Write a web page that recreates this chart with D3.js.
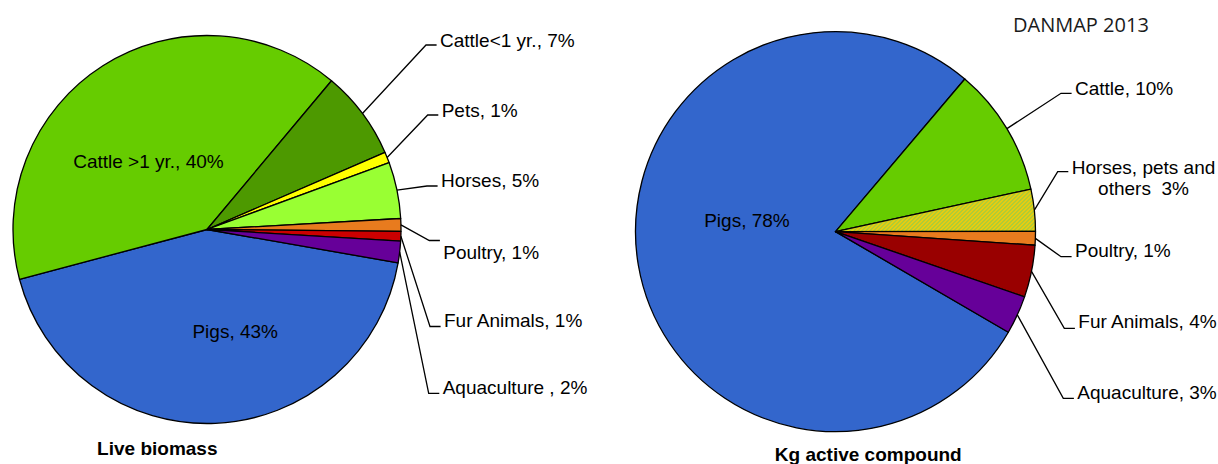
<!DOCTYPE html>
<html>
<head>
<meta charset="utf-8">
<script src="https://cdn.jsdelivr.net/npm/d3@7"></script>
<style>
  html, body { margin: 0; padding: 0; background: #fff; }
  svg { display: block; }
  text { font-family: "Liberation Sans", Arial, sans-serif; fill: #000; white-space: pre; }
</style>
</head>
<body>
<svg id="chart" width="1218" height="464"></svg>
<script>
// ---------- DATA ----------
const leftNames   = ["Pigs", "Cattle >1 yr.", "Cattle<1 yr.", "Pets", "Horses", "Poultry", "Fur Animals", "Aquaculture"];
const leftValues  = [43.1, 40.2, 7.4, 0.9, 4.7, 1.05, 0.8, 1.8];
const leftLabels  = ["Pigs, 43%", "Cattle >1 yr., 40%", "Cattle<1 yr., 7%", "Pets, 1%", "Horses, 5%", "Poultry, 1%", "Fur Animals, 1%", "Aquaculture , 2%"];
const leftColors  = ["#3366CC", "#66CC00", "#4D9900", "#FFFF00", "#99FF33", "#E87B1E", "#CC0000", "#660099"];

const rightNames  = ["Pigs", "Cattle", "Horses, pets and others", "Poultry", "Fur Animals", "Aquaculture"];
const rightValues = [77.8, 10.4, 3.4, 1.1, 4.2, 3.1];
const rightLabels = ["Pigs, 78%", "Cattle, 10%", "Horses, pets and\nothers  3%", "Poultry, 1%", "Fur Animals, 4%", "Aquaculture, 3%"];
const rightColors = ["#3366CC", "#66CC00", "url(#stripes)", "#E87B1E", "#990000", "#660099"];

const leftTitle  = "Live biomass";
const rightTitle = "Kg active compound";
const sourceNote = "DANMAP 2013";

// ---------- LAYOUT ----------
const leftPie  = { cx: 207, cy: 229.5, r: 194, start: 99.9 };
const rightPie = { cx: 835.5, cy: 231.6, r: 200, start: 120.2 };

// inside labels: offsets from the arc centroid (text centre x, baseline y)
const leftInside  = { 0: [24, 11.5], 1: [-6.5, 20] };
const rightInside = { 0: [10, -21.5] };

// outside labels: text left x, first baseline y, leader y
const leftOutside = {
  2: { x: 440,   y: 46.5,  ly: 45 },
  3: { x: 441.7, y: 116.5, ly: 115 },
  4: { x: 441,   y: 187,   ly: 186 },
  5: { x: 443.3, y: 259,   ly: 240.5 },
  6: { x: 444,   y: 327,   ly: 326.5 },
  7: { x: 442.7, y: 394,   ly: 393.3 }
};
const rightOutside = {
  1: { x: 1075,   y: 94.5, ly: 93.3 },
  2: { x: 1071.7, y: 174,  ly: 171.7 },
  3: { x: 1075,   y: 257,  ly: 256.7 },
  4: { x: 1078.3, y: 328,  ly: 328.3 },
  5: { x: 1077.3, y: 399,  ly: 398.3 }
};

const svg = d3.select("#chart");
const FONT = 19;

// pixel hatch pattern (upward diagonal)
const defs = svg.append("defs");
const P = 4;
const pat = defs.append("pattern")
  .attr("id", "stripes")
  .attr("patternUnits", "userSpaceOnUse")
  .attr("x", 0).attr("y", 0)
  .attr("width", P).attr("height", P);
pat.append("rect").attr("width", P).attr("height", P).attr("fill", "#FFCC00");
for (let py = 0; py < P; py++) {
  for (let px = 0; px < P; px++) {
    if ((px + py) % P < 2) {
      pat.append("rect").attr("x", px).attr("y", py).attr("width", 1).attr("height", 1)
        .attr("fill", "#99CC44").attr("shape-rendering", "crispEdges");
    }
  }
}

function drawPie(cfg, names, values, labels, colors, inside, outside) {
  const rad = Math.PI / 180;
  const pie = d3.pie().sort(null).value(d => d)
    .startAngle(cfg.start * rad).endAngle((cfg.start + 360) * rad);
  const arcs = pie(values);
  const arc = d3.arc().innerRadius(0).outerRadius(cfg.r);
  const g = svg.append("g").attr("transform", `translate(${cfg.cx},${cfg.cy})`);

  g.selectAll("path.slice").data(arcs).join("path")
    .attr("class", "slice")
    .attr("d", arc)
    .attr("fill", (d, i) => colors[i])
    .attr("stroke", "#000")
    .attr("stroke-width", 1.3)
    .attr("stroke-linejoin", "round");

  arcs.forEach((d, i) => {
    if (inside[i]) {
      const c = arc.centroid(d);
      g.append("text")
        .attr("x", c[0] + inside[i][0])
        .attr("y", c[1] + inside[i][1])
        .attr("text-anchor", "middle")
        .attr("font-size", FONT)
        .text(labels[i]);
    } else if (outside[i]) {
      const o = outside[i];
      const mid = (d.startAngle + d.endAngle) / 2;
      const sx = cfg.cx + Math.sin(mid) * cfg.r;
      const sy = cfg.cy - Math.cos(mid) * cfg.r;
      const ex = o.x - 3.4;
      const elx = o.x - 14;
      svg.append("path")
        .attr("d", d3.line()([[sx, sy], [elx, o.ly], [ex, o.ly]]))
        .attr("fill", "none")
        .attr("stroke", "#000")
        .attr("stroke-width", 1.3);
      const lines = labels[i].split("\n");
      const t = svg.append("text").attr("font-size", FONT).attr("xml:space", "preserve");
      const spans = lines.map((ln, k) =>
        t.append("tspan").attr("x", o.x).attr("y", o.y + k * 21).text(ln));
      if (lines.length > 1) {
        const w0 = spans[0].node().getComputedTextLength();
        spans.forEach((s, k) => {
          if (k > 0) {
            const w = s.node().getComputedTextLength();
            s.attr("x", o.x + (w0 - w) / 2);
          }
        });
      }
    }
  });
}

drawPie(leftPie, leftNames, leftValues, leftLabels, leftColors, leftInside, leftOutside);
drawPie(rightPie, rightNames, rightValues, rightLabels, rightColors, rightInside, rightOutside);

svg.append("text").attr("x", 157.3).attr("y", 455).attr("text-anchor", "middle")
  .attr("font-size", FONT).attr("font-weight", "bold").text(leftTitle);
svg.append("text").attr("x", 868.3).attr("y", 461).attr("text-anchor", "middle")
  .attr("font-size", FONT).attr("font-weight", "bold").text(rightTitle);
svg.append("text").attr("x", 1013).attr("y", 32.3)
  .style("font-family", "'Open Sans', sans-serif").style("fill", "#1a1a1a")
  .attr("font-size", 20).text(sourceNote);
</script>
</body>
</html>
